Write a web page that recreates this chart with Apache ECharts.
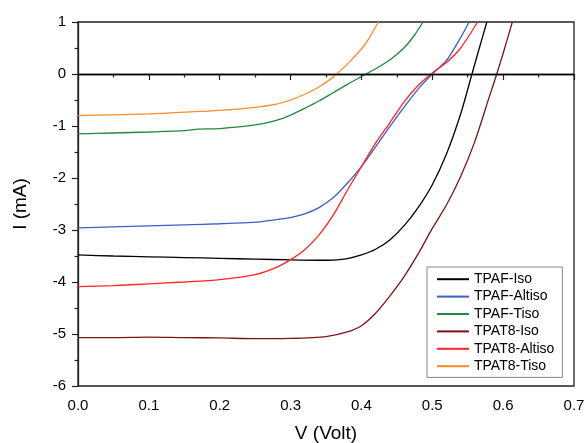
<!DOCTYPE html>
<html>
<head>
<meta charset="utf-8">
<script src="https://cdn.jsdelivr.net/npm/echarts@6/dist/echarts.min.js"></script>
<style>
  html, body { margin: 0; padding: 0; background: #fff; }
  #chart { width: 587px; height: 443px; }
</style>
</head>
<body>
<div id="chart"></div>
<script>
// I-V curves, [V (Volt), I (mA)]
const seriesNames = ['TPAF-Iso', 'TPAF-Altiso', 'TPAF-Tiso', 'TPAT8-Iso', 'TPAT8-Altiso', 'TPAT8-Tiso'];
const seriesColors = ['#000000', '#3a5fc8', '#1f8a3c', '#7a1414', '#ff2424', '#ff8a2a'];

const tpafIso = [[0, -3.48], [0.05, -3.5], [0.1, -3.515], [0.15, -3.53], [0.2, -3.545], [0.25, -3.56],
  [0.3, -3.575], [0.34, -3.582], [0.36, -3.578], [0.38, -3.55], [0.4, -3.48], [0.42, -3.37], [0.44, -3.19],
  [0.46, -2.92], [0.48, -2.57], [0.5, -2.13], [0.52, -1.54], [0.54, -0.77], [0.556, 0], [0.566, 0.48], [0.577, 1.0]];

const tpafAltiso = [[0, -2.96], [0.05, -2.94], [0.1, -2.92], [0.15, -2.9], [0.2, -2.88], [0.25, -2.85],
  [0.28, -2.8], [0.3, -2.76], [0.32, -2.69], [0.34, -2.57], [0.36, -2.38], [0.38, -2.1], [0.4, -1.78],
  [0.42, -1.4], [0.44, -1.01], [0.46, -0.64], [0.48, -0.29], [0.5, 0], [0.52, 0.26], [0.54, 0.7], [0.552, 1.0]];

const tpafTiso = [[0, -1.15], [0.05, -1.135], [0.1, -1.115], [0.15, -1.09], [0.17, -1.06], [0.2, -1.05],
  [0.25, -0.98], [0.28, -0.89], [0.3, -0.79], [0.32, -0.66], [0.34, -0.52], [0.36, -0.36], [0.38, -0.2],
  [0.4, -0.05], [0.42, 0.1], [0.44, 0.27], [0.46, 0.5], [0.475, 0.75], [0.487, 1.0]];

const tpat8Iso = [[0, -5.07], [0.05, -5.07], [0.1, -5.06], [0.15, -5.07], [0.2, -5.075], [0.25, -5.09],
  [0.3, -5.085], [0.35, -5.05], [0.38, -4.96], [0.4, -4.84], [0.42, -4.6], [0.44, -4.27], [0.46, -3.9],
  [0.48, -3.46], [0.5, -2.97], [0.52, -2.52], [0.54, -1.97], [0.56, -1.3], [0.58, -0.46], [0.591, 0],
  [0.6, 0.4], [0.613, 1.0]];

const tpat8Altiso = [[0, -4.09], [0.05, -4.07], [0.1, -4.035], [0.15, -4.0], [0.2, -3.955], [0.25, -3.86],
  [0.28, -3.72], [0.3, -3.57], [0.32, -3.38], [0.34, -3.1], [0.36, -2.72], [0.38, -2.24], [0.4, -1.78],
  [0.42, -1.33], [0.44, -0.94], [0.46, -0.54], [0.48, -0.22], [0.5, 0.02], [0.52, 0.22], [0.54, 0.5], [0.564, 1.0]];

const tpat8Tiso = [[0, -0.8], [0.05, -0.785], [0.1, -0.765], [0.15, -0.735], [0.2, -0.7], [0.25, -0.64],
  [0.28, -0.58], [0.3, -0.5], [0.32, -0.39], [0.34, -0.25], [0.36, -0.06], [0.38, 0.19], [0.4, 0.48],
  [0.41, 0.67], [0.424, 1.0]];

const allData = [tpafIso, tpafAltiso, tpafTiso, tpat8Iso, tpat8Altiso, tpat8Tiso];

const font = 'Liberation Sans, Arial, sans-serif';
let mychart = echarts.init(document.getElementById('chart'));

let series = seriesNames.map((name, i) => ({
  name: name,
  type: 'line',
  data: allData[i],
  symbol: 'none',
  smooth: 0.25,
  lineStyle: { color: seriesColors[i], width: 1.3 },
  itemStyle: { color: seriesColors[i] },
  z: 3
}));
// zero line
series[0].markLine = {
  silent: true,
  symbol: 'none',
  label: { show: false },
  lineStyle: { color: '#000', width: 1.3, type: 'solid' },
  data: [{ yAxis: 0 }]
};

let option = {
  animation: false,
  backgroundColor: '#fff',
  grid: {
    left: 78, right: 13, top: 22, bottom: 57,
    outerBoundsMode: 'none',
    containLabel: false,
    show: true, borderColor: '#222', borderWidth: 1.3
  },
  legend: {
    orient: 'vertical',
    left: 427, top: 267,
    backgroundColor: '#fff',
    borderColor: '#888',
    borderWidth: 1,
    padding: [4, 8, 3, 10],
    icon: 'rect',
    itemWidth: 32, itemHeight: 2, itemGap: 1,
    textStyle: { fontFamily: font, fontSize: 14, color: '#000', lineHeight: 16.4 },
    data: seriesNames
  },
  xAxis: {
    type: 'value',
    min: 0, max: 0.7, interval: 0.1,
    name: 'V (Volt)',
    nameLocation: 'middle',
    nameGap: 38,
    nameTextStyle: { fontFamily: font, fontSize: 19, color: '#000' },
    axisLine: { lineStyle: { color: '#222', width: 1.3 } },
    axisTick: { length: 6, lineStyle: { color: '#222', width: 1.2 } },
    minorTick: { show: true, splitNumber: 2, length: 3.5, lineStyle: { color: '#222', width: 1.2 } },
    splitLine: { show: false },
    axisLabel: { fontFamily: font, fontSize: 15, color: '#000', margin: 12, formatter: v => v.toFixed(1) }
  },
  yAxis: {
    type: 'value',
    min: -6, max: 1, interval: 1,
    name: 'I (mA)',
    nameLocation: 'middle',
    nameGap: 48,
    nameTextStyle: { fontFamily: font, fontSize: 19, color: '#000' },
    axisLine: { lineStyle: { color: '#222', width: 1.3 } },
    axisTick: { length: 6, lineStyle: { color: '#222', width: 1.2 } },
    minorTick: { show: true, splitNumber: 2, length: 3.5, lineStyle: { color: '#222', width: 1.2 } },
    splitLine: { show: false },
    axisLabel: { fontFamily: font, fontSize: 15, color: '#000', margin: 12 }
  },
  series: series
};
mychart.setOption(option);
</script>
</body>
</html>
